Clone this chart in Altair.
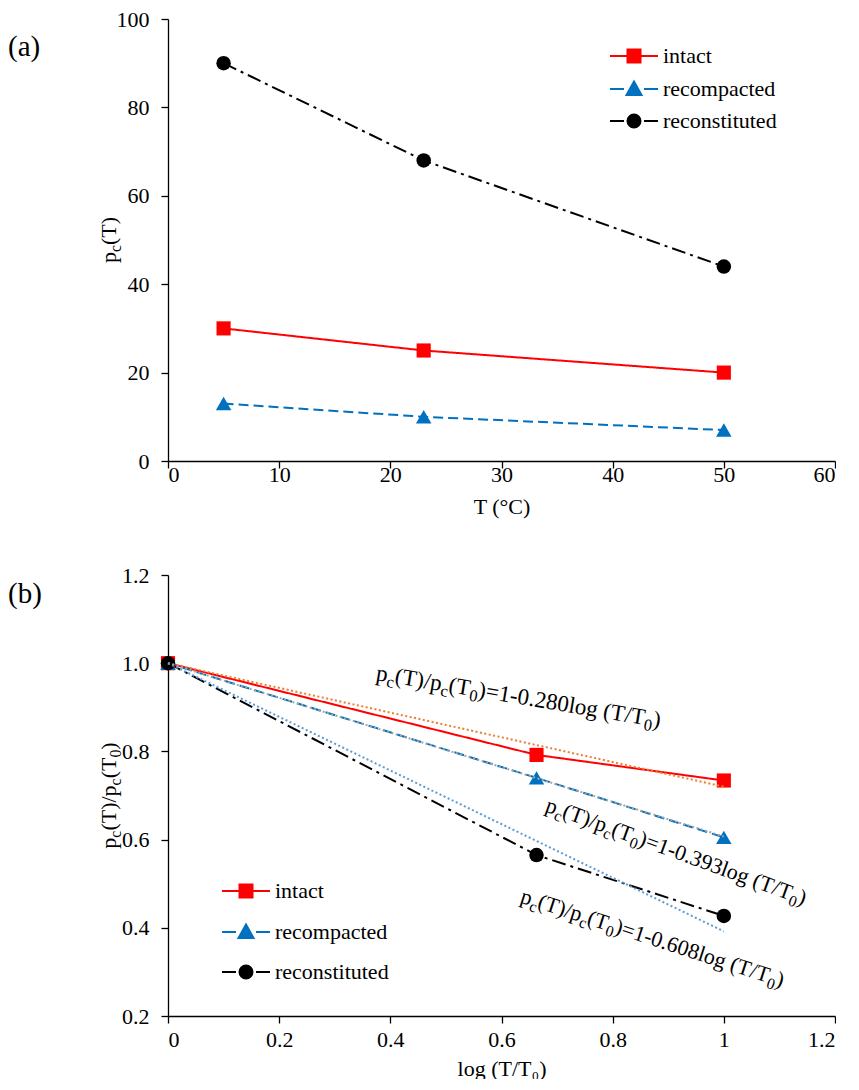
import altair as alt
import pandas as pd

FONT = "Liberation Serif"
FS = 22

# ---------------- data ----------------
series = ["intact", "recompacted", "reconstituted"]
colors = ["#FF0000", "#0070C0", "#000000"]

# panel (a): p_c(T) vs T
T_a = [5, 23, 50]
pc_intact = [30, 25, 20]
pc_recompacted = [13, 10, 7]
pc_reconstituted = [90, 68, 44]

# panel (b): normalised p_c vs log(T/T0)
logT = [0.0, 0.663, 1.0]
ratio_intact = [1.0, 0.792, 0.734]
ratio_recompacted = [1.0, 0.740, 0.605]
ratio_reconstituted = [1.0, 0.565, 0.427]

# fitted lines (end points)
trend_x = [0.0, 1.0]
trend_intact = [1.0, 0.720]
trend_recompacted = [1.0, 0.607]
trend_reconstituted = [1.0, 0.392]
trend_colors = ["#ED7D31", "#A5A5A5", "#5B9BD5"]

# equation labels
eq_coef = ["0.280", "0.393", "0.608"]
eq_x = [0.373, 0.677, 0.632]
eq_y = [0.962, 0.665, 0.458]
eq_angle = [9.5, 20, 18]
eq_size = [23, 22, 22]

# ---------------- styles ----------------
dash_a = [[1, 0], [10, 5], [14, 5, 3, 5]]
dash_b = [[1, 0], [10, 5], [14, 5, 3, 5]]
marker_shapes = ["square", "triangle-up", "circle"]
marker_sizes = [200, 240, 210]
legend_paths = [
    "M-2.4,0H2.4M-0.65,-0.65H0.65V0.65H-0.65Z",
    "M-2.4,0H-1.0M1.0,0H2.4M0,-0.75L0.75,0.6H-0.75Z",
    "M-2.4,0H-1.0M1.0,0H2.4M-0.65,0A0.65,0.65 0 1,0 0.65,0A0.65,0.65 0 1,0 -0.65,0Z",
]

CW = {'p': 500, 'c': 444, '(': 333, ')': 333, 'T': 611, '/': 278, '=': 564,
      '-': 333, '.': 250, 'l': 278, 'o': 500, 'g': 500, ' ': 250}
for d in "0123456789":
    CW[d] = 500
SUB = 0.72
SUB_DY = 5


def text_w(s, size):
    return sum(CW.get(ch, 500) for ch in s) * size / 1000.0


def rich_layers(runs, df, x_enc, y_enc, angle, size, start=0.0):
    layers = []
    off = start
    for txt, sub in runs:
        fs = size * SUB if sub else size
        layers.append(
            alt.Chart(df).mark_text(
                text=txt, align="left", baseline="alphabetic", angle=angle,
                dx=off, dy=(SUB_DY if sub else 0), font=FONT, fontSize=fs,
                color="black",
            ).encode(x=x_enc, y=y_enc)
        )
        off += text_w(txt, fs)
    return layers


def runs_width(runs, size):
    return sum(text_w(t, size * SUB if s else size) for t, s in runs)


def make_panel(xs, ys_list, xname, yname, xscale, yscale, xaxis, yaxis, dashes, legend_cfg):
    rows = []
    for s, ys in zip(series, ys_list):
        for xv, yv in zip(xs, ys):
            rows.append({xname: xv, yname: yv, "series": s})
    df = pd.DataFrame(rows)
    X = alt.X(f"{xname}:Q", scale=xscale, axis=xaxis)
    Y = alt.Y(f"{yname}:Q", scale=yscale, axis=yaxis)
    # data-driven domain (alphabetical = series order) for the drawn marks
    cscale = alt.Scale(range=colors)
    lines = alt.Chart(df).mark_line(strokeWidth=2).encode(
        x=X, y=Y,
        color=alt.Color("series:N", scale=cscale, legend=None),
        strokeDash=alt.StrokeDash("series:N", scale=alt.Scale(range=dashes), legend=None),
    )
    pts = []
    for s, shp, sz in zip(series, marker_shapes, marker_sizes):
        pts.append(
            alt.Chart(df).transform_filter(alt.datum.series == s).mark_point(
                shape=shp, filled=True, size=sz, opacity=1
            ).encode(x=X, y=Y, color=alt.Color("series:N", scale=cscale, legend=None))
        )
    leg = alt.Legend(title=None, orient="none", padding=0, symbolSize=400,
                     symbolStrokeWidth=2, symbolOpacity=1, labelFont=FONT, labelFontSize=FS,
                     labelColor="black", **legend_cfg)
    legend_layer = alt.Chart(df).mark_point(opacity=0, filled=True, size=400).encode(
        x=X, y=Y,
        fill=alt.Fill("series:N", scale=alt.Scale(domain=series, range=colors), legend=leg),
        stroke=alt.Stroke("series:N", scale=alt.Scale(domain=series, range=colors), legend=leg),
        shape=alt.Shape("series:N", scale=alt.Scale(domain=series, range=legend_paths), legend=leg),
    )
    return lines, pts, legend_layer


axis_common = dict(domainColor="black", domainWidth=1.3, tickColor="black",
                   tickWidth=1.3, tickSize=7, labelFont=FONT, labelFontSize=FS,
                   labelColor="black", grid=False)
title_common = dict(titleFont=FONT, titleFontSize=FS, titleFontWeight="normal",
                    titleColor="black")

# ---------------- panel (a) ----------------
WA, HA = 667, 442
xa_axis = alt.Axis(values=[0, 10, 20, 30, 40, 50, 60], title="T (°C)", labelPadding=-4,
                   titlePadding=11, **title_common, **axis_common)
ya_axis = alt.Axis(values=[0, 20, 40, 60, 80, 100], title=None, labelPadding=12, **axis_common)
lines_a, pts_a, leg_a = make_panel(
    T_a, [pc_intact, pc_recompacted, pc_reconstituted], "T", "pc",
    alt.Scale(domain=[0, 60], nice=False), alt.Scale(domain=[0, 100], nice=False),
    xa_axis, ya_axis, dash_a,
    dict(legendX=455, legendY=26, labelOffset=18, rowPadding=10))

one = pd.DataFrame({"k": [0]})
ytitle_a_runs = [("p", False), ("c", True), ("(T)", False)]
wa = runs_width(ytitle_a_runs, FS)
ytitle_a = rich_layers(ytitle_a_runs, one, alt.value(-52), alt.value(HA / 2), 270, FS, start=-wa / 2)
lab_a = alt.Chart(one).mark_text(text="(a)", align="left", baseline="middle", font=FONT,
                                 fontSize=29, color="black").encode(x=alt.value(-160), y=alt.value(28))

panel_a = alt.layer(lines_a, *pts_a, leg_a, *ytitle_a, lab_a).properties(width=WA, height=HA)

# ---------------- panel (b) ----------------
WB, HB = 667, 441
xb_axis = alt.Axis(values=[0, 0.2, 0.4, 0.6, 0.8, 1.0, 1.2], format=".1~f", title="log (T/T₀)",
                   labelPadding=6, titlePadding=8, **title_common, **axis_common)
yb_axis = alt.Axis(values=[0.2, 0.4, 0.6, 0.8, 1.0, 1.2], format=".1f", title=None,
                   labelPadding=12, **axis_common)
lines_b, pts_b, leg_b = make_panel(
    logT, [ratio_intact, ratio_recompacted, ratio_reconstituted], "lx", "ratio",
    alt.Scale(domain=[0, 1.2], nice=False), alt.Scale(domain=[0.2, 1.2], nice=False),
    xb_axis, yb_axis, dash_b,
    dict(legendX=67, legendY=305, labelOffset=18, rowPadding=18))

trend_layers = []
for ty, tc in zip([trend_intact, trend_recompacted, trend_reconstituted], trend_colors):
    tdf = pd.DataFrame({"lx": trend_x, "ratio": ty})
    trend_layers.append(
        alt.Chart(tdf).mark_line(color=tc, strokeWidth=2, strokeDash=[2, 2.5]).encode(
            x=alt.X("lx:Q"), y=alt.Y("ratio:Q"))
    )

eq_layers = []
for coef, ex, ey, ea, es in zip(eq_coef, eq_x, eq_y, eq_angle, eq_size):
    edf = pd.DataFrame({"lx": [ex], "ratio": [ey]})
    runs = [("p", False), ("c", True), ("(T)/p", False), ("c", True), ("(T", False),
            ("0", True), (")=1-" + coef + "log (T/T", False), ("0", True), (")", False)]
    eq_layers += rich_layers(runs, edf, alt.X("lx:Q"), alt.Y("ratio:Q"), ea, es)

ytitle_b_runs = [("p", False), ("c", True), ("(T)/p", False), ("c", True), ("(T", False),
                 ("0", True), (")", False)]
wb = runs_width(ytitle_b_runs, FS)
ytitle_b = rich_layers(ytitle_b_runs, one, alt.value(-52), alt.value(HB / 2), 270, FS, start=-wb / 2)
lab_b = alt.Chart(one).mark_text(text="(b)", align="left", baseline="middle", font=FONT,
                                 fontSize=29, color="black").encode(x=alt.value(-160), y=alt.value(19))

panel_b = alt.layer(lines_b, *pts_b, *trend_layers, leg_b, *eq_layers, *ytitle_b, lab_b).properties(
    width=WB, height=HB)

chart = alt.vconcat(panel_a, panel_b, spacing=47).resolve_scale(
    color="independent", fill="independent", stroke="independent",
    shape="independent", strokeDash="independent"
).configure(
    font=FONT, padding={"left": 0, "top": 0, "right": 0, "bottom": 0}
).configure_view(stroke=None)

chart.save("out.html", embed_options={"renderer": "svg", "actions": False})
